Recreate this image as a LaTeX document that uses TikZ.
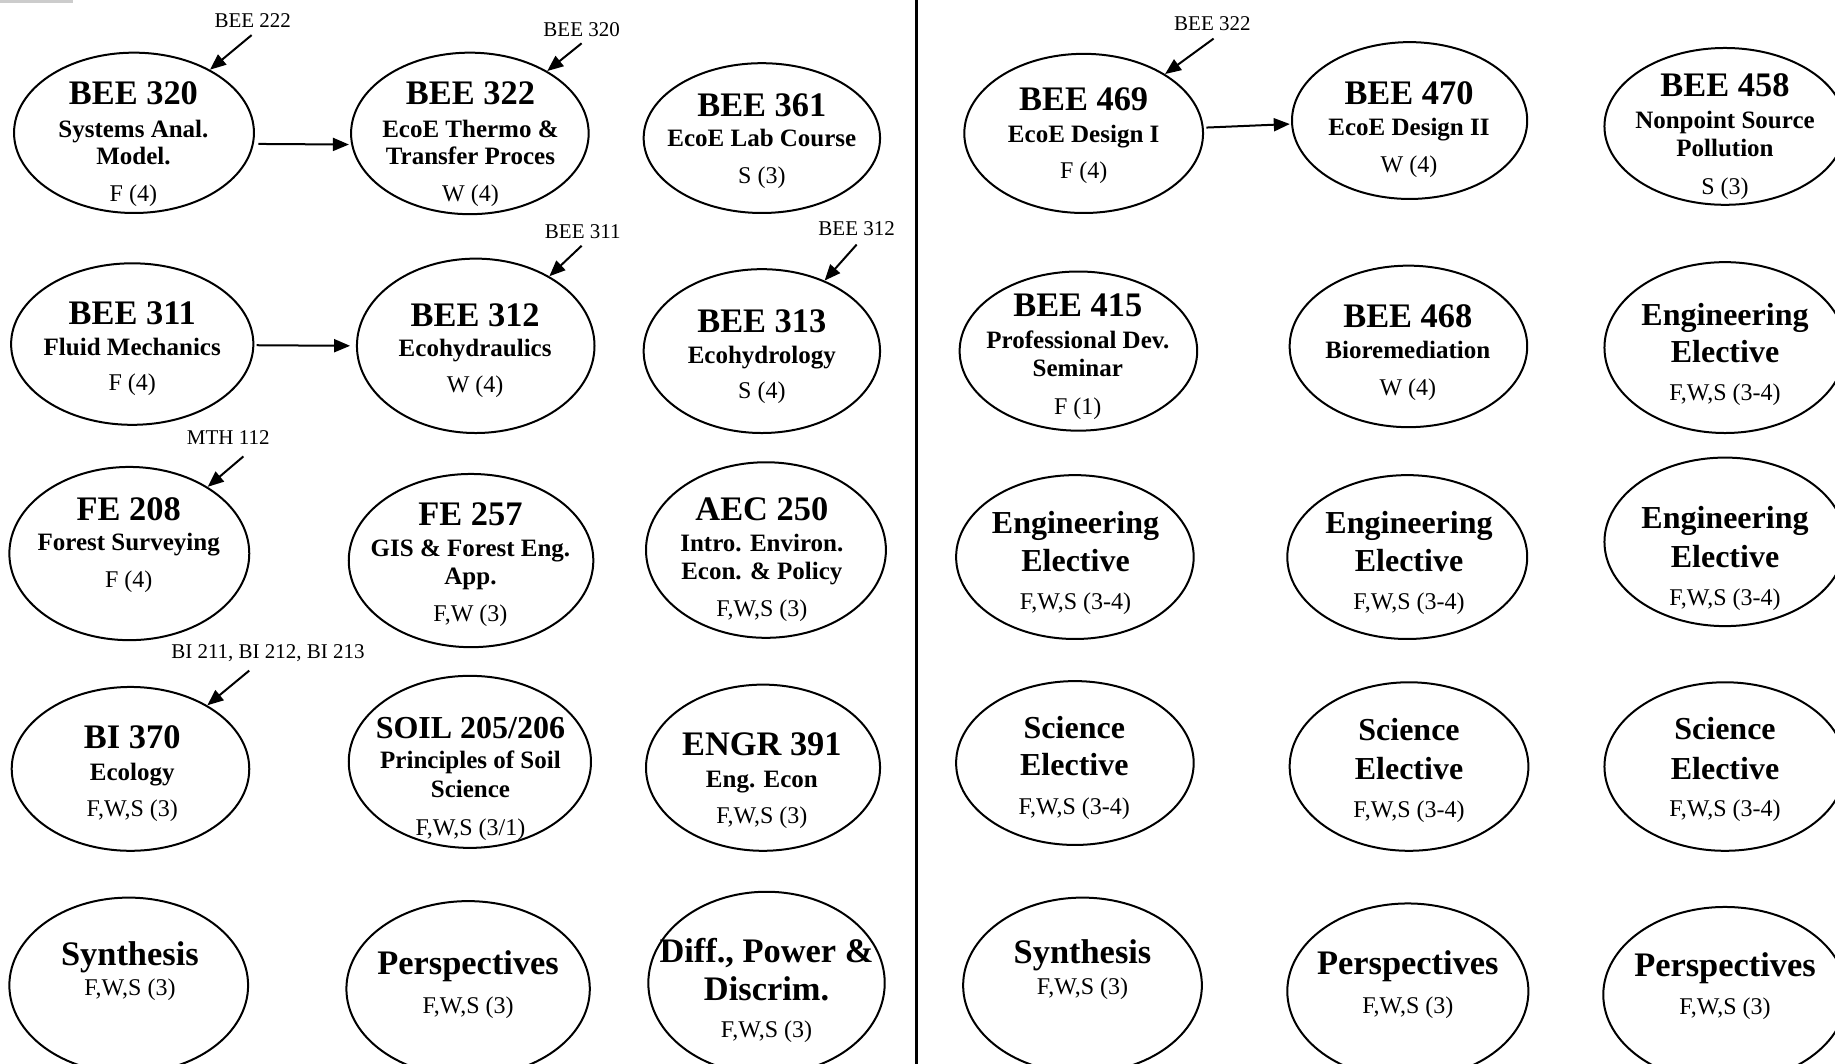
\documentclass[tikz,border=0pt]{standalone}
\usepackage{fontspec}
\setmainfont{Liberation Serif}
\usetikzlibrary{arrows.meta,shapes.geometric}
\newdimen\pxu \pxu=0.58515pt
\newcommand\lnbox[1]{\vbox{\baselineskip=0pt\lineskip=0pt\lineskiplimit=-\maxdimen\halign{\hfil##\hfil\cr#1\crcr}}}
\newcommand\brk[1]{\cr\noalign{\vskip#1\pxu}}
\newcommand\crsT[1]{{\fontsize{17.2}{0}\selectfont\bfseries #1}}
\newcommand\crsE[1]{{\fontsize{16}{0}\selectfont\bfseries #1}}
\newcommand\crsS[1]{{\fontsize{12.5}{0}\selectfont\bfseries #1}}
\newcommand\crsR[1]{{\fontsize{12}{0}\selectfont #1}}
\begin{document}
\begin{tikzpicture}[x=0.58515pt,y=-0.58515pt,
 oval/.style 2 args={ellipse,draw,line width=1pt,inner sep=0pt,minimum width={2*#1*0.58515pt},minimum height={2*#2*0.58515pt}},
 txt/.style={anchor=base,inner sep=0pt},
 pre/.style={font=\fontsize{10.5}{12}\selectfont,inner sep=0pt},
 arr/.style={-{Triangle[length=8pt,width=6.5pt]},line width=1pt},
]
\useasboundingbox (0,0) rectangle (1568,909);
\fill[black!20] (0,0) rectangle (62,2.5);
\draw[line width=1.3pt] (783,0) -- (783,909);

% Row 1
\node[oval={102.5}{68.5}] (bee320) at (114.5,113.5) {};
\node[txt] (bee320t) at (114,171.8) {\lnbox{\crsT{BEE 320}\brk{27.8}\crsS{Systems Anal.}\brk{23}\crsS{Model.}\brk{31.3}\crsR{F (4)}}};
\node[oval={101.5}{69}] (bee322) at (401.5,114) {};
\node[txt] (bee322t) at (402,171.8) {\lnbox{\crsT{BEE 322}\brk{27.8}\crsS{EcoE Thermo \&}\brk{23}\crsS{Transfer Proces}\brk{31.3}\crsR{W (4)}}};
\node[oval={101}{64}] (bee361) at (651,118) {};
\node[txt] (bee361t) at (651,156.8) {\lnbox{\crsT{BEE 361}\brk{25.8}\crsS{EcoE Lab Course}\brk{31.3}\crsR{S (3)}}};
\node[oval={102}{68}] (bee469) at (926,114) {};
\node[txt] (bee469t) at (926,152.8) {\lnbox{\crsT{BEE 469}\brk{26.8}\crsS{EcoE Design I}\brk{31.3}\crsR{F (4)}}};
\node[oval={100.5}{67}] (bee470) at (1204.5,103) {};
\node[txt] (bee470t) at (1204,147.8) {\lnbox{\crsT{BEE 470}\brk{25.8}\crsS{EcoE Design II}\brk{32.3}\crsR{W (4)}}};
\node[oval={103}{67}] (bee458) at (1474,108) {};
\node[txt] (bee458t) at (1474,165.8) {\lnbox{\crsT{BEE 458}\brk{26.8}\crsS{Nonpoint Source}\brk{24}\crsS{Pollution}\brk{32.3}\crsR{S (3)}}};

% Row 2
\node[oval={103.5}{69}] (bee311) at (113,294) {};
\node[txt] (bee311t) at (113,333.8) {\lnbox{\crsT{BEE 311}\brk{25.8}\crsS{Fluid Mechanics}\brk{30.3}\crsR{F (4)}}};
\node[oval={101.5}{74.5}] (bee312) at (406.5,295.5) {};
\node[txt] (bee312t) at (406,335.8) {\lnbox{\crsT{BEE 312}\brk{25.8}\crsS{Ecohydraulics}\brk{31.3}\crsR{W (4)}}};
\node[oval={101}{70}] (bee313) at (651,300) {};
\node[txt] (bee313t) at (651,340.8) {\lnbox{\crsT{BEE 313}\brk{26.8}\crsS{Ecohydrology}\brk{30.3}\crsR{S (4)}}};
\node[oval={101.5}{68}] (bee415) at (921.5,300) {};
\node[txt] (bee415t) at (921,353.8) {\lnbox{\crsT{BEE 415}\brk{26.8}\crsS{Professional Dev.}\brk{24}\crsS{Seminar}\brk{32.3}\crsR{F (1)}}};
\node[oval={101.5}{69}] (bee468) at (1203.5,296) {};
\node[txt] (bee468t) at (1203,337.8) {\lnbox{\crsT{BEE 468}\brk{26.8}\crsS{Bioremediation}\brk{31.3}\crsR{W (4)}}};
\node[oval={103}{73}] (engA) at (1474,297) {};
\node[txt] (engAt) at (1474,341.8) {\lnbox{\crsE{Engineering}\brk{32}\crsE{Elective}\brk{31.8}\crsR{F,W,S (3-4)}}};

% Row 3
\node[oval={102.5}{74}] (fe208) at (110.5,473) {};
\node[txt] (fe208t) at (110,501.8) {\lnbox{\crsT{FE 208}\brk{25.8}\crsS{Forest Surveying}\brk{31.3}\crsR{F (4)}}};
\node[oval={104.5}{74}] (fe257) at (402.5,479) {};
\node[txt] (fe257t) at (402,530.8) {\lnbox{\crsT{FE 257}\brk{26.8}\crsS{GIS \& Forest Eng.}\brk{24}\crsS{App.}\brk{31.3}\crsR{F,W (3)}}};
\node[oval={102.5}{75}] (aec250) at (654.5,470) {};
\node[txt] (aec250t) at (651,526.8) {\lnbox{\crsT{AEC 250}\brk{26.8}\crsS{Intro. Environ.}\brk{24}\crsS{Econ. \& Policy}\brk{31.3}\crsR{F,W,S (3)}}};
\node[oval={101.5}{70}] (engB) at (918.5,476) {};
\node[txt] (engBt) at (919,520.8) {\lnbox{\crsE{Engineering}\brk{32}\crsE{Elective}\brk{32.8}\crsR{F,W,S (3-4)}}};
\node[oval={102.5}{70}] (engC) at (1202.5,476) {};
\node[txt] (engCt) at (1204,520.8) {\lnbox{\crsE{Engineering}\brk{32}\crsE{Elective}\brk{32.8}\crsR{F,W,S (3-4)}}};
\node[oval={103}{72}] (engD) at (1474,463) {};
\node[txt] (engDt) at (1474,517.8) {\lnbox{\crsE{Engineering}\brk{33}\crsE{Elective}\brk{32.8}\crsR{F,W,S (3-4)}}};

% Row 4
\node[oval={101.5}{70}] (bi370) at (111.5,657) {};
\node[txt] (bi370t) at (113,697.8) {\lnbox{\crsT{BI 370}\brk{26.8}\crsS{Ecology}\brk{31.3}\crsR{F,W,S (3)}}};
\node[oval={103.5}{73.5}] (soil) at (401.5,651) {};
\node[txt] (soilt) at (402,713.8) {\lnbox{\crsE{SOIL 205/206}\brk{25.5}\crsS{Principles of Soil}\brk{25}\crsS{Science}\brk{32.3}\crsR{F,W,S (3/1)}}};
\node[oval={100}{71}] (engr391) at (652,656) {};
\node[txt] (engr391t) at (651,703.8) {\lnbox{\crsT{ENGR 391}\brk{26.8}\crsS{Eng. Econ}\brk{31.3}\crsR{F,W,S (3)}}};
\node[oval={101.5}{70}] (sciA) at (918.5,652) {};
\node[txt] (sciAt) at (918,695.8) {\lnbox{\crsE{Science}\brk{32}\crsE{Elective}\brk{32.8}\crsR{F,W,S (3-4)}}};
\node[oval={102}{72}] (sciB) at (1204,655) {};
\node[txt] (sciBt) at (1204,698.8) {\lnbox{\crsE{Science}\brk{33}\crsE{Elective}\brk{32.8}\crsR{F,W,S (3-4)}}};
\node[oval={103}{72}] (sciC) at (1474,655) {};
\node[txt] (sciCt) at (1474,697.8) {\lnbox{\crsE{Science}\brk{34}\crsE{Elective}\brk{31.8}\crsR{F,W,S (3-4)}}};

% Row 5
\node[oval={102}{75}] (synA) at (110,842) {};
\node[txt] (synAt) at (111,850.8) {\lnbox{\crsT{Synthesis}\brk{26.1}\crsR{F,W,S (3)}}};
\node[oval={104}{75}] (perA) at (400,845) {};
\node[txt] (perAt) at (400,865.8) {\lnbox{\crsT{Perspectives}\brk{33.1}\crsR{F,W,S (3)}}};
\node[oval={101}{78}] (diff) at (655,840) {};
\node[txt] (difft) at (655,886.8) {\lnbox{\crsT{Diff., Power \&}\brk{32}\crsT{Discrim.}\brk{32.1}\crsR{F,W,S (3)}}};
\node[oval={102}{75}] (synB) at (925,842) {};
\node[txt] (synBt) at (925,849.8) {\lnbox{\crsT{Synthesis}\brk{26.1}\crsR{F,W,S (3)}}};
\node[oval={103}{75}] (perB) at (1203,847) {};
\node[txt] (perBt) at (1203,865.8) {\lnbox{\crsT{Perspectives}\brk{33.1}\crsR{F,W,S (3)}}};
\node[oval={104}{75}] (perC) at (1474,850) {};
\node[txt] (perCt) at (1474,866.8) {\lnbox{\crsT{Perspectives}\brk{32.1}\crsR{F,W,S (3)}}};

% prerequisite labels
\node[pre] (pBEE222) at (216,18) {BEE 222};
\node[pre] (pBEE320) at (497,25) {BEE 320};
\node[pre] (pBEE311) at (498,198) {BEE 311};
\node[pre] (pBEE312) at (732,195) {BEE 312};
\node[pre] (pMTH112) at (195,374) {MTH 112};
\node[pre] (pBI) at (229,558) {BI 211, BI 212, BI 213};
\node[pre] (pBEE322) at (1036,20) {BEE 322};

\draw[arr] ([shift={(-1,12)}]pBEE222.center) -- (bee320);
\draw[arr] ([shift={(0,12)}]pBEE320.center) -- (bee322);
\draw[arr] ([shift={(-1,12)}]pBEE311.center) -- (bee312);
\draw[arr] ([shift={(0,14)}]pBEE312.center) -- (bee313);
\draw[arr] ([shift={(13,16)}]pMTH112.center) -- (fe208);
\draw[arr] ([shift={(-16,15)}]pBI.center) -- (bi370);
\draw[arr] ([shift={(1,13)}]pBEE322.center) -- (bee469);

% sequence arrows
\draw[arr] ([shift={(3,9.5)}]bee320.east) -- ([shift={(-1,9.5)}]bee322.west);
\draw[arr] ([shift={(2,1)}]bee311.east) -- ([shift={(-5,0)}]bee312.west);
\draw[arr] ([shift={(2,-5)}]bee469.east) -- ([shift={(-1,3)}]bee470.west);
\end{tikzpicture}
\end{document}
